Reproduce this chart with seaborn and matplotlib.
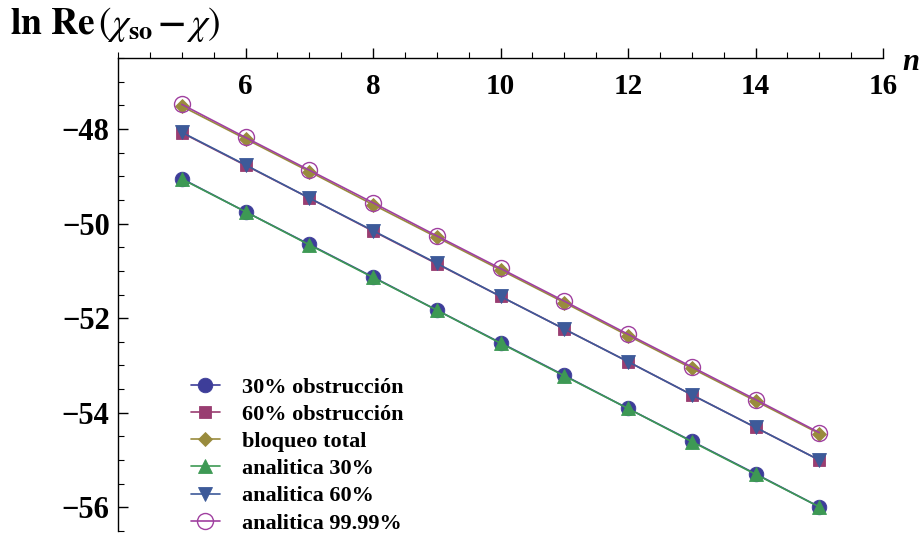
import numpy as np
import pandas as pd
import matplotlib
matplotlib.use("Agg")
import matplotlib.pyplot as plt
import seaborn as sns

# Number of resonators n
n = [5, 6, 7, 8, 9, 10, 11, 12, 13, 14, 15]

# ln Re(chi_so - chi), numerical results
obs30 = [-49.05, -49.75, -50.44, -51.13, -51.83, -52.52, -53.21, -53.91, -54.60, -55.29, -55.99]
obs60 = [-48.08, -48.77, -49.46, -50.16, -50.85, -51.54, -52.23, -52.92, -53.62, -54.31, -55.00]
bloqueo = [-47.52, -48.21, -48.90, -49.60, -50.29, -50.98, -51.67, -52.37, -53.06, -53.75, -54.44]

# analytic predictions
ana30 = [-49.06, -49.75, -50.45, -51.14, -51.83, -52.53, -53.22, -53.91, -54.61, -55.30, -55.99]
ana60 = [-48.07, -48.76, -49.46, -50.15, -50.84, -51.54, -52.23, -52.92, -53.62, -54.31, -55.00]
ana9999 = [-47.48, -48.18, -48.87, -49.56, -50.26, -50.95, -51.64, -52.34, -53.03, -53.72, -54.42]

labels = ["30% obstrucción", "60% obstrucción", "bloqueo total",
          "analitica 30%", "analitica 60%", "analitica 99.99%"]

x_ticks = [6, 8, 10, 12, 14, 16]
y_ticks = [-48, -50, -52, -54, -56]

sns.set_theme(style="white")
plt.rcParams["font.family"] = ["Liberation Serif", "DejaVu Serif"]
plt.rcParams["mathtext.fontset"] = "stix"
plt.rcParams["text.color"] = "black"

series = [obs30, obs60, bloqueo, ana30, ana60, ana9999]
df = pd.DataFrame({"n": n * 6,
                   "valor": np.concatenate(series),
                   "serie": np.repeat(labels, len(n))})

styles = {
    labels[0]: dict(color="#3d3d99", marker="o", markersize=10.5, mfc="#3d3d99"),
    labels[1]: dict(color="#993d71", marker="s", markersize=9.2, mfc="#993d71"),
    labels[2]: dict(color="#998b3d", marker="D", markersize=7.6, mfc="#998b3d"),
    labels[3]: dict(color="#3d9954", marker="^", markersize=10.0, mfc="#3d9954"),
    labels[4]: dict(color="#3d5a99", marker="v", markersize=10.0, mfc="#3d5a99"),
    labels[5]: dict(color="#a040a0", marker="o", markersize=11.5, mfc="none"),
}

fig = plt.figure(figsize=(9.24, 5.39), dpi=100)
ax = fig.add_axes([118 / 924, 1 - 531 / 539, (883 - 118) / 924, (531 - 58) / 539])

for lab in labels:
    st = styles[lab]
    sub = df[df["serie"] == lab]
    sns.lineplot(data=sub, x="n", y="valor", ax=ax, color=st["color"],
                 marker=st["marker"], markersize=st["markersize"],
                 markerfacecolor=st["mfc"], markeredgecolor=st["color"],
                 markeredgewidth=1.0 if st["mfc"] == "none" else 0.6,
                 linewidth=1.2, label=lab, clip_on=False)

ax.set_xlim(4, 16)
ax.set_ylim(-56.5, -46.5)

# axes cross at the top-left corner: x axis along the top
for s in ["right", "top"]:
    ax.spines[s].set_visible(False)
ax.spines["bottom"].set_position(("data", -46.5))
for s in ["bottom", "left"]:
    ax.spines[s].set_color("black")
    ax.spines[s].set_linewidth(1.0)

ax.set_xticks(x_ticks)
ax.set_xticks(np.arange(4, 16.01, 0.5), minor=True)
ax.set_yticks(y_ticks)
ax.set_yticks(np.arange(-56.5, -46.49, 0.5), minor=True)
ax.set_xticklabels([str(v) for v in x_ticks])
ax.set_yticklabels(["\u2212" + str(abs(v)) for v in y_ticks])

ax.tick_params(axis="x", which="both", bottom=True, top=False)
ax.tick_params(axis="y", which="both", left=True, right=False)
ax.tick_params(axis="x", which="major", direction="in", length=7, width=1.0,
               color="black", pad=11, labelsize=21, labelcolor="black")
ax.tick_params(axis="x", which="minor", direction="in", length=4, width=0.8,
               color="black")
ax.tick_params(axis="y", which="major", direction="in", length=7, width=1.0,
               color="black", pad=6, labelsize=22, labelcolor="black")
ax.tick_params(axis="y", which="minor", direction="in", length=4, width=0.8,
               color="black")
for t in ax.get_xticklabels() + ax.get_yticklabels():
    t.set_fontweight("bold")

ax.set_xlabel("")
ax.set_ylabel("")
ax.grid(False)

fig.text(10 / 924, 1 - 25 / 539,
         r"$\mathbf{ln\ Re}\,(\chi_{\mathbf{so}}\,\mathbf{-}\,\chi)$",
         fontsize=27, ha="left", va="center", color="black")
fig.text(902 / 924, 1 - 62 / 539, "n", fontsize=22, fontweight="bold",
         fontstyle="italic", ha="left", va="center", color="black")

leg = ax.legend(loc="upper left", bbox_to_anchor=(191 / 924, 1 - 377 / 539),
                bbox_transform=fig.transFigure, frameon=False,
                prop={"weight": "bold", "size": 16, "family": "Liberation Serif"},
                handlelength=1.3, handletextpad=1.0, labelspacing=0.30,
                borderpad=0, borderaxespad=0)
for t in leg.get_texts():
    t.set_color("black")

fig.savefig("out.png", dpi=100)
